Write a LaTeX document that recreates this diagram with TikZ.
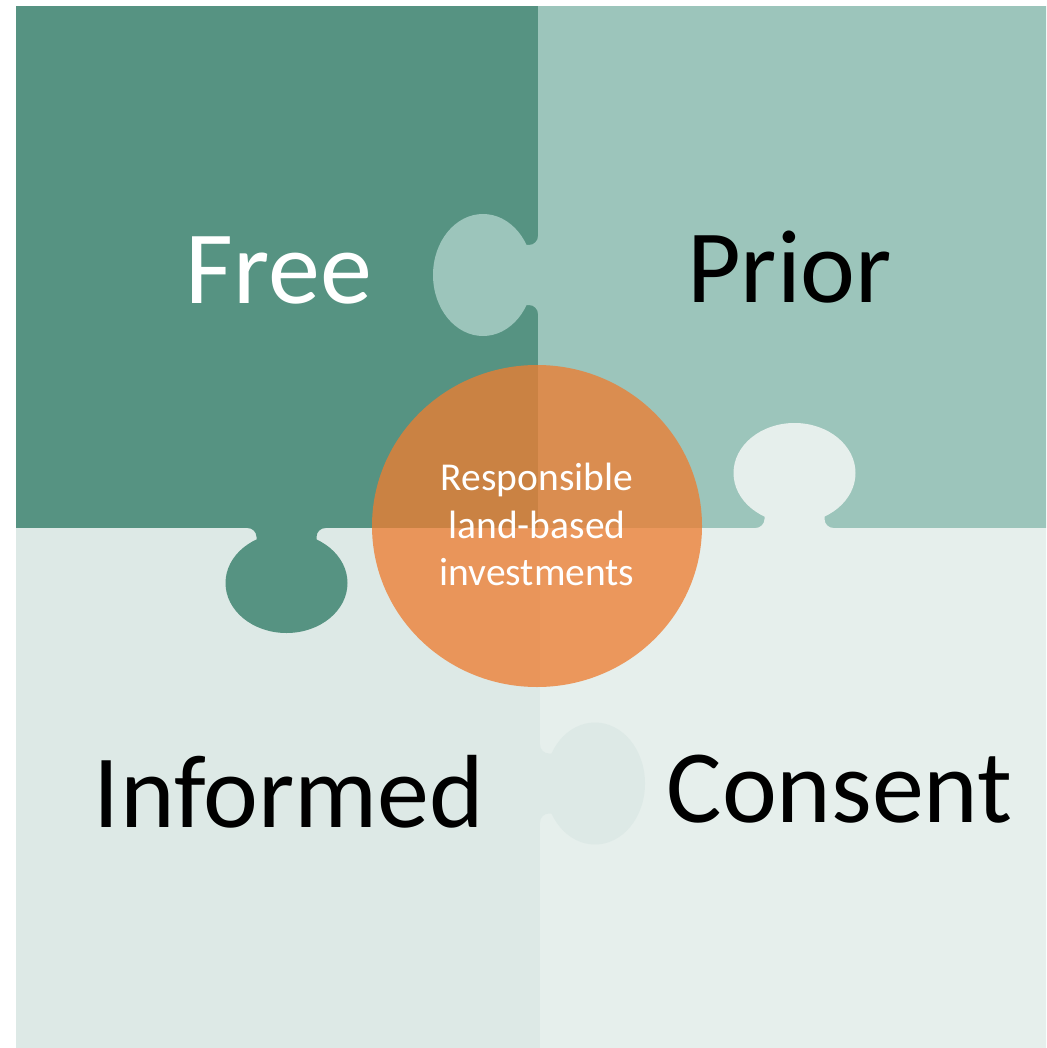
\documentclass[tikz,border=0pt]{standalone}
\usepackage{fontspec}
\setmainfont{Carlito}
\definecolor{pieceTL}{RGB}{86,147,130}
\definecolor{pieceTR}{RGB}{156,197,187}
\definecolor{pieceBL}{RGB}{221,233,230}
\definecolor{pieceBR}{RGB}{230,239,236}
\definecolor{hub}{RGB}{237,125,49}
\newcommand{\puzzletab}[4]{%
  \begin{scope}[shift={(#1,#2)}, rotate=#3]
    \fill[#4] (55,0) ellipse [x radius=50, y radius=61];
    \fill[#4] (-1,-39) -- (0,-39) arc[start angle=180, end angle=90, radius=9]
      -- (40,-30) -- (40,30) -- (9,30) arc[start angle=270, end angle=180, radius=9]
      -- (-1,39) -- cycle;
  \end{scope}}
\begin{document}
\begin{tikzpicture}[x=1pt, y=-1pt,
  bigword/.style={anchor=base, inner sep=0pt, font=\fontsize{104}{110}\selectfont},
  hubtext/.style={anchor=base, inner sep=0pt, text=white, font=\fontsize{39.5}{47}\selectfont}]
\useasboundingbox (0,0) rectangle (1046,1048);
\begin{scope}
  \clip (0,0) rectangle (1046,1048);
  \fill[pieceTL] (16,6) rectangle (538,528);
  \fill[pieceTR] (538,6) rectangle (1060,528);
  \fill[pieceBL] (16,528) rectangle (540,1050);
  \fill[pieceBR] (540,528) rectangle (1060,1050);
  \puzzletab{538}{275}{180}{pieceTR}
  \puzzletab{794.5}{528}{90}{pieceBR}
  \puzzletab{286.5}{528}{-90}{pieceTL}
  \puzzletab{540}{783.5}{0}{pieceBL}
\end{scope}
\fill[hub, opacity=0.77] (537,526) ellipse [x radius=165, y radius=161];
\node[bigword, text=white] (free) at (279,303) {Free};
\node[bigword, text=black] (prior) at (789.5,302) {Prior};
\node[bigword, text=black] (informed) at (289,827) {Informed};
\node[bigword, text=black] (consent) at (839.5,822) {Consent};
\node[hubtext] (hub1) at (537,490) {Responsible};
\node[hubtext] (hub2) at (537,538) {land-based};
\node[hubtext] (hub3) at (537,585) {investments};
\end{tikzpicture}
\end{document}
